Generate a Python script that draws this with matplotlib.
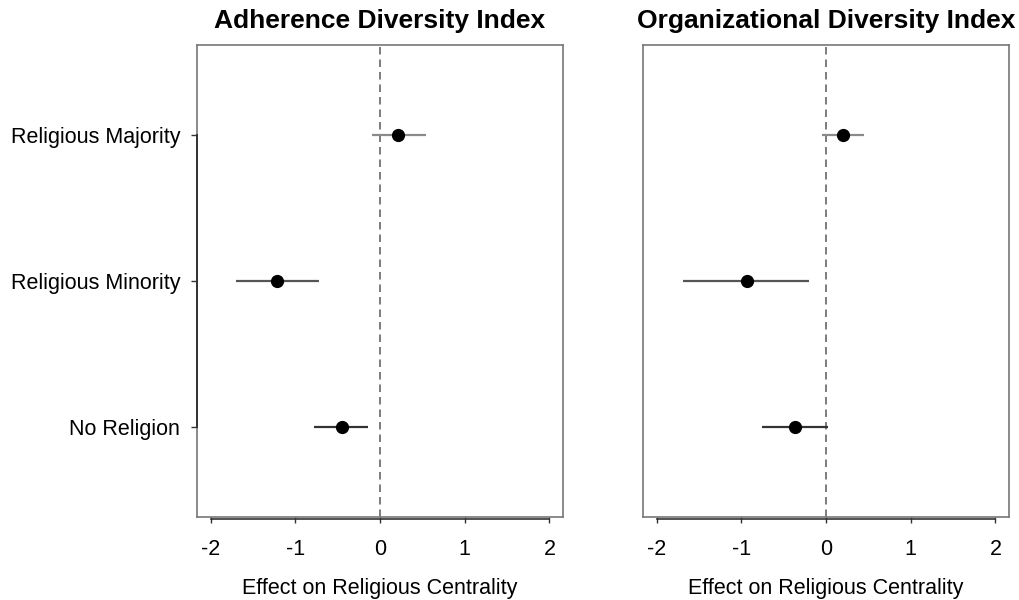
import matplotlib
matplotlib.use("Agg")
import matplotlib.pyplot as plt
import matplotlib.transforms as mtransforms

plt.rcParams["font.family"] = ["Liberation Sans", "DejaVu Sans"]

# y positions: bottom to top
groups = ["No Religion", "Religious Minority", "Religious Majority"]
line_colors = ["#333333", "#555555", "#8a8a8a"]

panel_titles = ["Adherence Diversity Index", "Organizational Diversity Index"]

# estimates and 95% intervals, in the order of `groups`
adherence_est = [-0.45, -1.22, 0.21]
adherence_low = [-0.78, -1.70, -0.09]
adherence_high = [-0.14, -0.72, 0.54]

organizational_est = [-0.37, -0.93, 0.20]
organizational_low = [-0.76, -1.69, -0.05]
organizational_high = [0.02, -0.20, 0.45]

x_ticks = [-2, -1, 0, 1, 2]
x_label = "Effect on Religious Centrality"

fig = plt.figure(figsize=(10.19, 6.0), dpi=100)
ax1 = fig.add_axes([0.1933, 0.1383, 0.3592, 0.7867])
ax2 = fig.add_axes([0.6310, 0.1383, 0.3592, 0.7867])

panels = [
    (ax1, adherence_est, adherence_low, adherence_high),
    (ax2, organizational_est, organizational_low, organizational_high),
]

for i, (ax, est, low, high) in enumerate(panels):
    ypos = list(range(1, len(groups) + 1))
    ax.axvline(0, color="#666666", linestyle=(0, (4.5, 3)), linewidth=1.2, zorder=1)
    for y, e, lo, hi, c in zip(ypos, est, low, high, line_colors):
        ax.plot([lo, hi], [y, y], color=c, linewidth=1.6, solid_capstyle="butt", zorder=2)
        ax.plot(e, y, "o", color="black", markersize=8.5, zorder=3)

    ax.set_xlim(-2.16, 2.16)
    ax.set_ylim(0.385, 3.615)
    ax.set_xticks(x_ticks)
    ax.set_xticklabels([str(t) for t in x_ticks])
    ax.tick_params(axis="x", direction="out", length=4, width=1, pad=12,
                   labelsize=15.5, color="#333333")
    for sp in ax.spines.values():
        sp.set_color("#777777")
        sp.set_linewidth(1.2)
    ax.set_xlabel(x_label, fontsize=15.5, labelpad=13)
    ax.set_title(panel_titles[i], fontsize=19, fontweight="bold", pad=12)

    # R-style axis line under the box
    trans_x = mtransforms.blended_transform_factory(ax.transData, ax.transAxes)
    ax.plot([x_ticks[0], x_ticks[-1]], [-0.005, -0.005], color="#333333",
            linewidth=1.2, transform=trans_x, clip_on=False, zorder=5)

    if i == 0:
        ax.set_yticks(ypos)
        ax.set_yticklabels(groups)
        ax.tick_params(axis="y", direction="out", length=4, width=1, pad=8,
                       labelsize=15.5, color="#333333")
        trans_y = mtransforms.blended_transform_factory(ax.transAxes, ax.transData)
        ax.plot([0, 0], [ypos[0], ypos[-1]], color="#333333", linewidth=1.4,
                transform=trans_y, clip_on=False, zorder=5)
    else:
        ax.set_yticks([])

fig.savefig("out.png", dpi=100)
